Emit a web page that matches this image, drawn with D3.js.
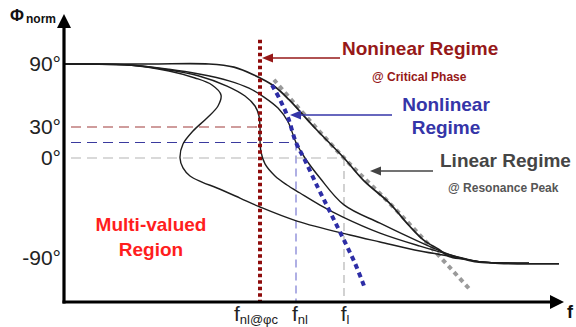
<!DOCTYPE html>
<html><head><meta charset="utf-8">
<script src="https://cdn.jsdelivr.net/npm/d3@7"></script>
<style>
body{margin:0;background:#fff}
svg{display:block}
text{font-family:"Liberation Sans",Arial,Helvetica,sans-serif}
</style>
</head><body>
<svg id="c" width="576" height="327"></svg>
<script>
// ---------------- data (frequency in arbitrary units, phase in degrees) ----------------
const phaseTicks = [90, 30, 0, -90];
const freqTickNames = ["nl@φc", "nl", "l"];
const freqTickValues = [39.2, 46.4, 56];
const refPhases = [30, 15, 0];           // critical phase, nonlinear peak phase, linear peak phase

// linear response (weak drive)
const curveA_f   = [0, 17, 29, 34, 38, 42, 45, 50, 56, 60, 65, 69, 72, 75, 77, 80, 83, 87, 93, 99];
const curveA_phi = [90, 90, 90, 87, 79.5, 69, 56, 30, 0, -20, -39, -59, -72, -80, -86, -88.5, -91, -92, -92.5, -92.5];
// nonlinear regime
const curveB_f   = [0, 13, 21, 27, 33, 37, 40, 42.8, 44.8, 46.4, 48.2, 51.2, 56, 63.2, 71.2, 78.2, 83, 93];
const curveB_phi = [90, 89, 85, 80.5, 74, 67, 58.5, 48, 35, 15, 0, -17.5, -41, -57, -73.5, -86, -90.5, -92];
// critical phase (vertical tangent)
const curveC_f   = [0, 13, 21, 27, 32.6, 36.2, 38.2, 39, 39.2, 39.2, 39.4, 40.2, 42.2, 44.6, 47.2, 51.2, 55.8, 63.2, 71.2, 78.2, 83, 93];
const curveC_phi = [90, 89, 84.3, 78.6, 69, 59.5, 50, 40.5, 30, 17.4, 5.8, -5.2, -15.7, -23.6, -30.6, -41.1, -51.6, -65.6, -77, -85.7, -90.5, -92];
// multi-valued response
const curveS_f   = [0, 13, 21, 26.2, 29.6, 31.4, 30.8, 28.6, 25.8, 23.8, 23.2, 23.8, 25.2, 27.6, 30.6, 35.2, 39.2, 46.6, 57.2, 63.2, 71.2, 78.2, 83, 93];
const curveS_phi = [90, 89, 83.3, 76.7, 70, 60.5, 50, 38.6, 26.1, 13.5, 0, -8.7, -15.7, -21, -26.2, -35, -42.8, -55.1, -67.3, -73.4, -81.3, -86.5, -90.5, -92];
// linear-regime slope line (gray dotted)
const linear_f   = [42, 46, 56, 65, 73, 81];
const linear_phi = [75, 53, 0, -39, -76, -114];
// nonlinear backbone (blue dotted)
const backbone_f   = [41.6, 43.2, 44.8, 46.4, 48.2, 50.8, 53.2, 55.8, 58.2, 60.2];
const backbone_phi = [70, 56, 39, 15, -2, -26, -47, -70, -92, -114];

// ---------------- layout ----------------
const svg = d3.select("#c");
const x = d3.scaleLinear().domain([0, 100]).range([64, 564]);
const y = d3.scaleLinear().domain([-90, 0, 30, 90]).range([261, 158, 127, 64]);
const baseY = 302;     // x-axis pixel row
const axisX = 64;

const zip = (a, b) => a.map((v, i) => [v, b[i]]);
const line = d3.line().x(d => x(d[0])).y(d => y(d[1])).curve(d3.curveCatmullRom.alpha(0.5));

// thin dashed reference lines
const refColors = ["#a03a3a", "#3a3a9e", "#b4b4b4"];
const refVColors = [null, "#7b7bd2", "#b4b4b4"];
const g = svg.append("g");
refPhases.forEach((p, i) => {
  g.append("line").attr("x1", x(1.4)).attr("x2", x(freqTickValues[i]))
    .attr("y1", y(p)).attr("y2", y(p))
    .attr("stroke", refColors[i]).attr("stroke-width", 1.2).attr("stroke-dasharray", "10,6");
  if (refVColors[i]) {
    g.append("line").attr("x1", x(freqTickValues[i])).attr("x2", x(freqTickValues[i]))
      .attr("y1", y(p)).attr("y2", baseY)
      .attr("stroke", refVColors[i]).attr("stroke-width", 1.2).attr("stroke-dasharray", "8,5");
  }
});

// gray dotted linear line
g.append("path").attr("d", line(zip(linear_f, linear_phi)))
  .attr("fill", "none").attr("stroke", "#9a9a9a").attr("stroke-width", 4).attr("stroke-dasharray", "4.5,4");

// black response curves
[[curveS_f, curveS_phi, 1.4], [curveC_f, curveC_phi, 1.4], [curveB_f, curveB_phi, 1.4], [curveA_f, curveA_phi, 1.7]]
  .forEach(([f, p, w]) => {
    g.append("path").attr("d", line(zip(f, p)))
      .attr("fill", "none").attr("stroke", "#1e1e1e").attr("stroke-width", w).attr("stroke-linejoin", "round");
  });

// blue dotted backbone
g.append("path").attr("d", line(zip(backbone_f, backbone_phi)))
  .attr("fill", "none").attr("stroke", "#2d2da6").attr("stroke-width", 4).attr("stroke-dasharray", "5,4");

// red dotted critical frequency
g.append("line").attr("x1", x(freqTickValues[0])).attr("x2", x(freqTickValues[0]))
  .attr("y1", y(113)).attr("y2", baseY)
  .attr("stroke", "#8e0b0b").attr("stroke-width", 4).attr("stroke-dasharray", "3.5,3");

// axes
const yAxis = d3.axisLeft(y).tickValues(phaseTicks).tickSize(0).tickPadding(3).tickFormat(d => d + "°");
const ya = svg.append("g").attr("transform", `translate(${axisX},0)`).call(yAxis);
ya.select(".domain").remove();
ya.selectAll("text").attr("font-size", 21).attr("fill", "#222")
  .attr("font-family", '"Liberation Sans",Arial,sans-serif')
  .attr("dy", d => d === -90 ? "0.18em" : "0.32em");

svg.append("line").attr("x1", axisX).attr("x2", axisX).attr("y1", baseY + 1.5).attr("y2", 27)
  .attr("stroke", "#000").attr("stroke-width", 3.2);
svg.append("path").attr("d", `M${axisX},14 L${axisX + 7},28 L${axisX - 7},28 Z`).attr("fill", "#000");
svg.append("line").attr("x1", axisX - 1.5).attr("x2", 551).attr("y1", baseY).attr("y2", baseY)
  .attr("stroke", "#000").attr("stroke-width", 3.2);
svg.append("path").attr("d", `M564,${baseY} L550,${baseY - 7} L550,${baseY + 7} Z`).attr("fill", "#000");

// axis titles
const t1 = svg.append("text").attr("x", 10).attr("y", 21).attr("font-weight", "bold").attr("fill", "#111");
t1.append("tspan").attr("font-size", 17).text("Φ");
t1.append("tspan").attr("font-size", 12).attr("dx", 2).attr("dy", 1.5).text("norm");
svg.append("text").attr("x", 567).attr("y", 318).attr("font-size", 18).attr("font-weight", "bold").attr("fill", "#111").text("f");

// frequency labels
const dxs = [-4, 4, 1];
freqTickValues.forEach((v, i) => {
  const t = svg.append("text").attr("x", x(v) + dxs[i]).attr("y", 321).attr("text-anchor", "middle").attr("fill", "#222");
  t.append("tspan").attr("font-size", 21).text("f");
  t.append("tspan").attr("font-size", 13).attr("dy", 2.5).text(freqTickNames[i]);
});

// annotations
function arrow(x1, x2, yy, color) {
  svg.append("line").attr("x1", x1).attr("x2", x2 + 9).attr("y1", yy).attr("y2", yy)
    .attr("stroke", color).attr("stroke-width", 1.5);
  svg.append("path").attr("d", `M${x2},${yy} L${x2 + 11},${yy - 4.5} L${x2 + 11},${yy + 4.5} Z`).attr("fill", color);
}
arrow(x(55.2), x(39.6), y(95.7), "#961818");
arrow(x(65.6), x(45.2), y(41.4), "#3535a8");
arrow(x(73.8), x(61.2), y(-11.4), "#444");

function label(tx, ty, txt, size, color, anchor) {
  svg.append("text").attr("x", tx).attr("y", ty).attr("font-size", size).attr("font-weight", "bold")
    .attr("fill", color).attr("text-anchor", anchor || "start").text(txt);
}
label(342, 55, "Noninear Regime", 19, "#961818");
label(372, 81, "@ Critical Phase", 12, "#961818");
label(446, 111, "Nonlinear", 19, "#3535a8", "middle");
label(446, 134, "Regime", 19, "#3535a8", "middle");
label(440, 167, "Linear Regime", 19, "#454545");
label(448, 192, "@ Resonance Peak", 12, "#555");
label(151, 231, "Multi-valued", 19, "#ff1e1e", "middle");
label(151, 256, "Region", 19, "#ff1e1e", "middle");
</script>
</body></html>
